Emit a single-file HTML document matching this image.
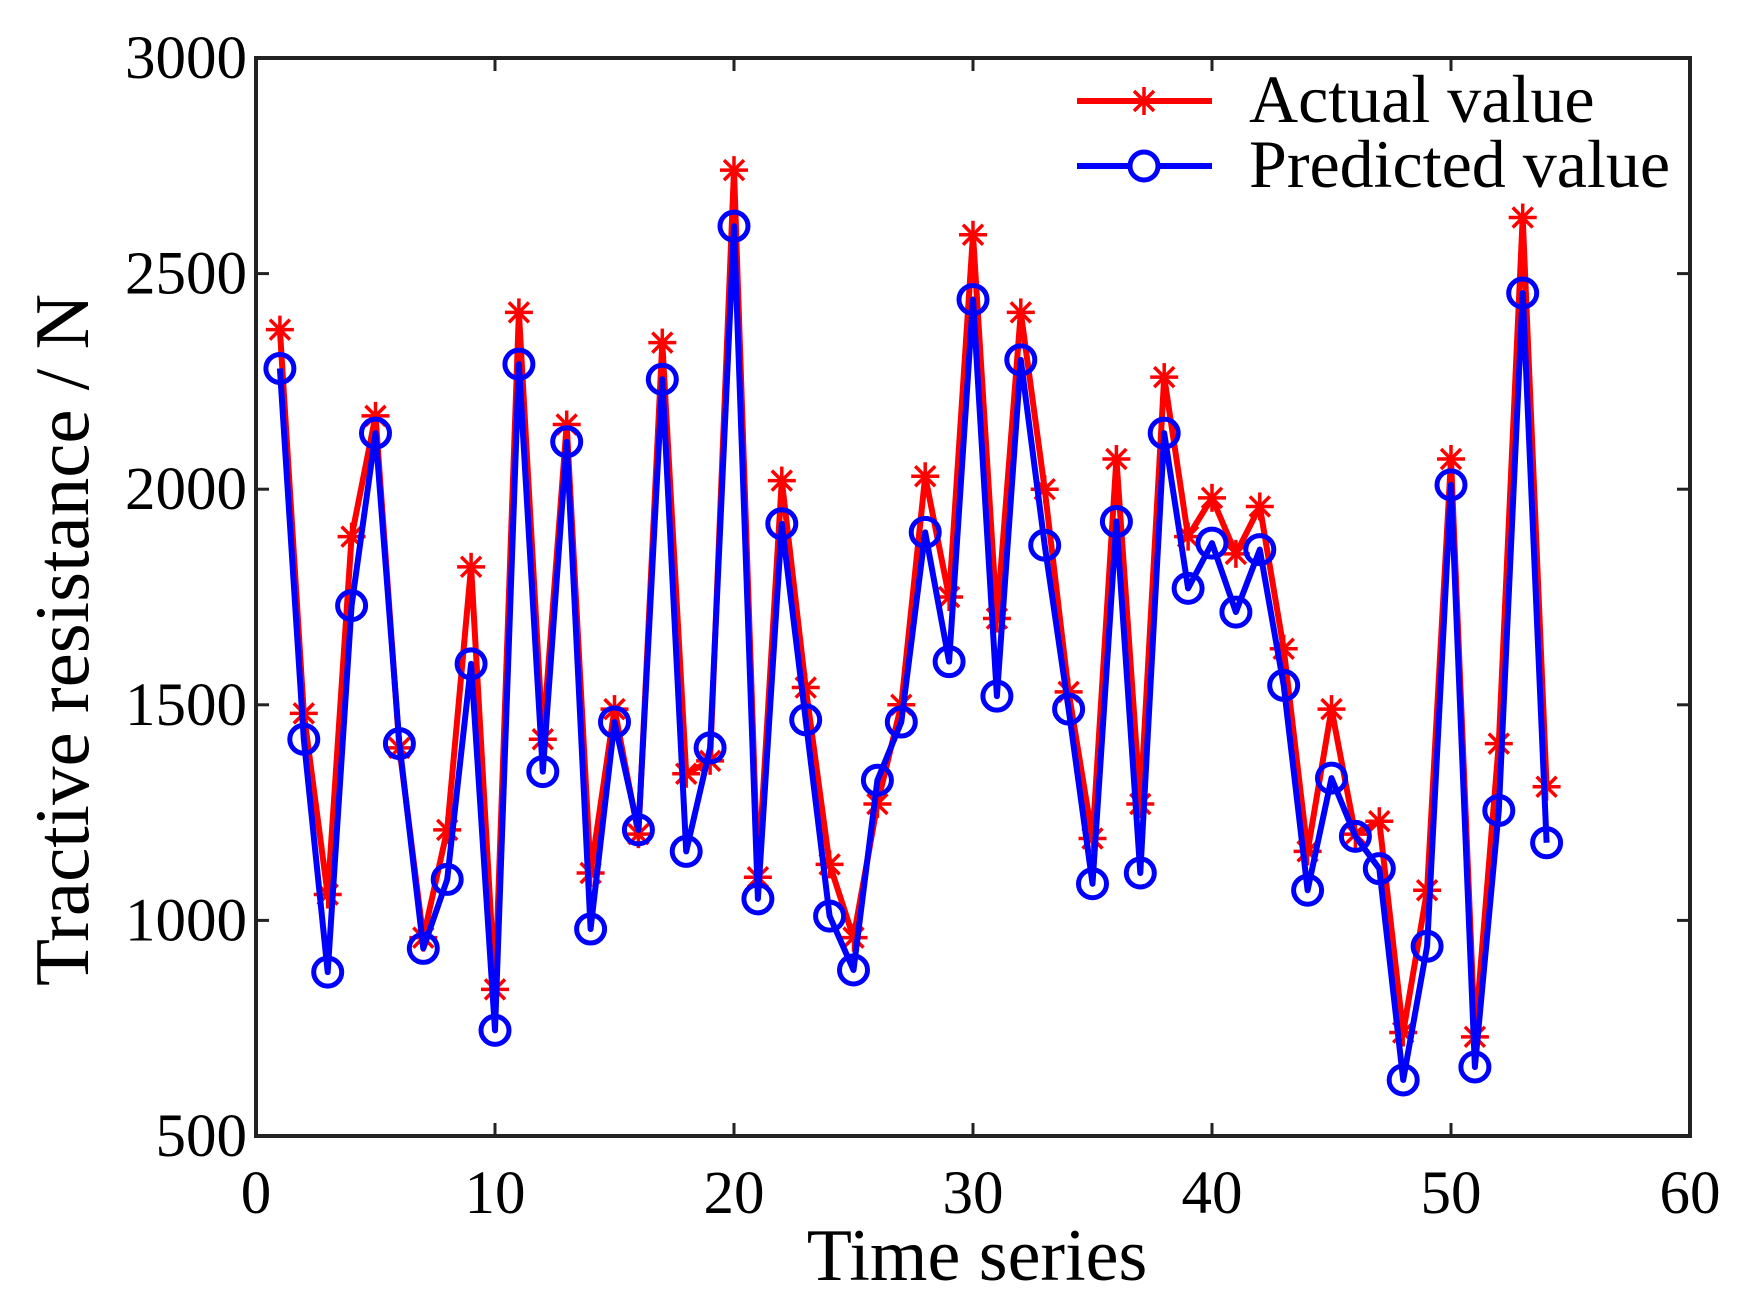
<!DOCTYPE html>
<html><head><meta charset="utf-8"><style>
html,body{margin:0;padding:0;background:#fff;}
svg{display:block;font-family:"Liberation Serif",serif;}
</style></head><body>
<svg id="chart" width="1753" height="1313" viewBox="0 0 1753 1313" xmlns="http://www.w3.org/2000/svg">
<defs>
  <g id="star">
    <line x1="-14" y1="0" x2="14" y2="0" stroke="#f00" stroke-width="3.5"/>
    <line x1="0" y1="-14" x2="0" y2="14" stroke="#f00" stroke-width="3.5"/>
    <line x1="-10" y1="-10" x2="10" y2="10" stroke="#f00" stroke-width="3.5"/>
    <line x1="-10" y1="10" x2="10" y2="-10" stroke="#f00" stroke-width="3.5"/>
  </g>
</defs>
<g id="axes"></g>
<g id="series"></g>
<g id="legend">
  <line x1="1077" y1="101" x2="1212" y2="101" stroke="#f00" stroke-width="6"/>
  <use href="#star" x="1144" y="101"/>
  <text x="1249" y="122" font-size="68">Actual value</text>
  <line x1="1077" y1="166" x2="1212" y2="166" stroke="#00f" stroke-width="6"/>
  <circle cx="1144" cy="166" r="14" fill="#fff" stroke="#00f" stroke-width="5"/>
  <text x="1249" y="187" font-size="68">Predicted value</text>
</g>
<text x="977" y="1280" font-size="74" text-anchor="middle">Time series</text>
<text x="0" y="0" font-size="77" text-anchor="middle" transform="translate(88,640) rotate(-90)">Tractive resistance / N</text>
</svg>
<script>
const xTicks=[0,10,20,30,40,50,60];
const yTicks=[500,1000,1500,2000,2500,3000];
const actual=[2370,1480,1060,1890,2170,1400,960,1210,1820,840,2410,1420,2150,1110,1490,1200,2340,1340,1370,2740,1100,2020,1540,1130,960,1270,1500,2030,1750,2590,1700,2410,2000,1530,1190,2070,1270,2260,1890,1980,1850,1960,1630,1160,1490,1200,1230,740,1070,2070,730,1410,2630,1310];
const predicted=[2280,1420,880,1730,2130,1410,935,1095,1595,745,2290,1345,2110,980,1460,1210,2255,1160,1400,2610,1050,1920,1465,1010,885,1325,1460,1900,1600,2440,1520,2300,1870,1490,1085,1925,1110,2130,1770,1875,1715,1860,1545,1070,1330,1195,1120,630,940,2010,660,1255,2455,1180];
const L=256,R=1690,T=58,B=1136;
const sx=v=>L+(v-0)/(60-0)*(R-L);
const sy=v=>B-(v-500)/(3000-500)*(B-T);
const NS="http://www.w3.org/2000/svg";
function mk(tag,attrs,parent){const e=document.createElementNS(NS,tag);for(const k in attrs)e.setAttribute(k,attrs[k]);parent.appendChild(e);return e;}
const ax=document.getElementById('axes');
xTicks.forEach(t=>{
  const x=sx(t);
  const tk=mk('line',{x1:x,y1:B,x2:x,y2:B-13,stroke:'#222','stroke-width':3},ax);
  
  
  mk('line',{x1:x,y1:T,x2:x,y2:T+13,stroke:'#222','stroke-width':3},ax);
  const tx=mk('text',{x:x,y:1213,'font-size':61,'text-anchor':'middle'},ax);
  tx.textContent=t;
  
  
});
yTicks.forEach(t=>{
  const y=sy(t);
  const tk=mk('line',{x1:L,y1:y,x2:L+13,y2:y,stroke:'#222','stroke-width':3},ax);
  
  
  mk('line',{x1:R,y1:y,x2:R-13,y2:y,stroke:'#222','stroke-width':3},ax);
  const tx=mk('text',{x:247,y:y+20,'font-size':61,'text-anchor':'end'},ax);
  tx.textContent=t;
  
  
});
const frame=mk('rect',{x:L,y:T,width:R-L,height:B-T,fill:'none',stroke:'#222','stroke-width':4},ax);


const sg=document.getElementById('series');
const ptsA=actual.map((v,i)=>sx(i+1)+','+sy(v)).join(' ');
const ptsP=predicted.map((v,i)=>sx(i+1)+','+sy(v)).join(' ');
const la=mk('polyline',{points:ptsA,fill:'none',stroke:'#f00','stroke-width':6,'stroke-linejoin':'round'},sg);


actual.forEach((v,i)=>{
  const s=mk('use',{href:'#star',x:sx(i+1),y:sy(v)},sg);
  
  
});
const lp=mk('polyline',{points:ptsP,fill:'none',stroke:'#00f','stroke-width':6,'stroke-linejoin':'round'},sg);


predicted.forEach((v,i)=>{
  const c=mk('circle',{cx:sx(i+1),cy:sy(v),r:14,fill:'none',stroke:'#00f','stroke-width':5},sg);
  
  
});
</script>
</body></html>
